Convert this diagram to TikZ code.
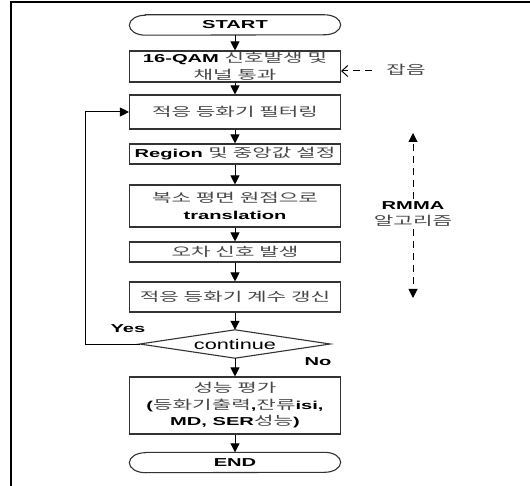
\documentclass[tikz,border=0pt]{standalone}
\usepackage{fontspec}
\setmainfont{Liberation Sans}[FakeStretch=1.55]
\font\lbf="Liberation Sans/B:extend=1.75" at 11.5pt
\newfontfamily\kr{Noto Sans CJK KR}[FakeStretch=1.7]
\usetikzlibrary{arrows.meta}
\newcommand\K[1]{{\kr\fontsize{12.5}{16.5}\selectfont\color{black!72}#1}}
\tikzset{
  txt/.style={font=\fontsize{11.5}{16.5}\selectfont\lbf, text=black},
  stepbox/.style={txt, draw=black!80, line width=1.1pt, rectangle, minimum width=211pt, inner sep=0pt, align=center},
  termbox/.style={txt, rectangle, minimum width=211pt, minimum height=20pt, inner sep=0pt},
  flow/.style={line width=1pt, -{Triangle[length=9pt,width=9pt]}},
  dsh/.style={line width=1pt, dash pattern=on 7pt off 5pt},
}
\begin{document}
\begin{tikzpicture}[x=1pt,y=1pt]
\useasboundingbox (0,0) rectangle (530,-486);
% frame
\draw[line width=1.3pt] (11,-486) -- (11,-2) -- (530,-2);

% terminals
\node[termbox] (start) at (235,-25) {START};
\node[termbox] (end) at (235,-462.5) {END};
\foreach \t in {start,end}{
  \draw[draw=black!80, line width=1.1pt]
    ([xshift=16pt]\t.north west) -- ([xshift=-16pt]\t.north east)
    arc[start angle=90, end angle=-90, x radius=16pt, y radius=10pt]
    -- ([xshift=16pt]\t.south west)
    arc[start angle=270, end angle=90, x radius=16pt, y radius=10pt] -- cycle;
}

% process steps
\node[stepbox, minimum height=31pt] (b1) at (235,-66.5) {16-QAM \K{신호발생 및}\\\K{채널 통과}};
\node[stepbox, minimum height=34pt] (b2) at (235,-112) {\K{적응 등화기 필터링}};
\node[stepbox, minimum height=20pt] (b3) at (235,-154) {Region \K{및 중앙값 설정}};
\node[stepbox, minimum height=42pt] (b4) at (235,-206) {\K{복소 평면 원점으로}\\translation};
\node[stepbox, minimum height=20pt] (b5) at (235,-252) {\K{오차 신호 발생}};
\node[stepbox, minimum height=30pt] (b6) at (235,-297) {\K{적응 등화기 계수 갱신}};

% decision
\node[rectangle, minimum width=190pt, minimum height=28pt, inner sep=0pt,
      font=\fontsize{14}{16}\selectfont] (dec) at (235,-344) {continue};
\draw[draw=black!80, line width=1.1pt] (dec.west) -- (dec.north) -- (dec.east) -- (dec.south) -- cycle;

\node[stepbox, minimum height=57pt] (b7) at (235,-405.5)
  {\K{성능 평가}\\(\K{등화기출력},\K{잔류}isi,\\MD, SER\K{성능})};

% main flow
\draw[flow] (start) -- (b1);
\draw[flow] (b1) -- (b2);
\draw[flow] (b2) -- (b3);
\draw[flow] (b3) -- (b4);
\draw[flow] (b4) -- (b5);
\draw[flow] (b5) -- (b6);
\draw[flow] (b6) -- (dec);
\draw[flow] (dec) -- (b7);
\draw[flow] (b7) -- (end);

% loop back
\draw[flow] (dec.west) -- ++(-54,0) |- (b2.west);
\node[txt] (yes) at (128,-329) {Yes};
\node[txt] (no) at (318,-362) {No};

% noise input
\node[inner sep=0pt] (noise) at (406,-70) {\K{잡음}};
\coordinate (nz) at (372,-71);
\draw[dsh, -{Straight Barb[length=6pt,width=11pt]}] (nz) -- (nz -| b1.east);

% RMMA range
\node[txt, align=center, inner sep=2pt] (rmma) at (413,-214) {RMMA\\\K{알고리즘}};
\coordinate (rtop) at (413,-133);
\coordinate (rbot) at (413,-298);
\draw[dsh, -{Triangle[length=9pt,width=9pt]}] (rmma.north) -- (rtop);
\draw[dsh, -{Triangle[length=9pt,width=9pt]}] (rmma.south) -- (rbot);
\end{tikzpicture}
\end{document}
